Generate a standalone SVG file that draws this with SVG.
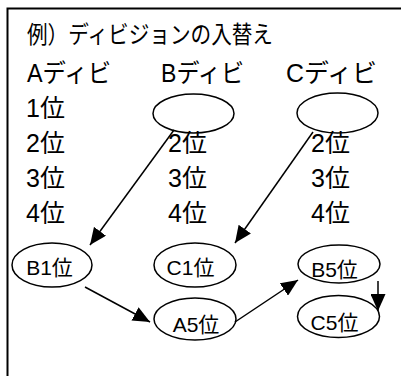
<svg xmlns="http://www.w3.org/2000/svg" width="401" height="376" viewBox="0 0 401 376">
<style>
text{font-family:"Liberation Sans","Noto Sans CJK JP",sans-serif;fill:#000}
.t{font-size:24px}
.r{font-size:25px}
.n{font-size:21px}
.e{fill:none;stroke:#000;stroke-width:1.5}
.c{fill:none;stroke:#000;stroke-width:1.5}
</style>
<defs>
<marker id="ah" markerUnits="userSpaceOnUse" markerWidth="17" markerHeight="15" refX="17" refY="7.5" orient="auto" viewBox="0 0 17 15">
<path d="M0,0 L17,7.5 L0,15 z" fill="#000"/>
</marker>
</defs>
<rect width="401" height="376" fill="#fff"/>
<path d="M7.5,376 V8.5 H401" fill="none" stroke="#000" stroke-width="2"/>
<g id="labels">
<text class="t" x="27" y="43" textLength="246" lengthAdjust="spacingAndGlyphs">例）ディビジョンの入替え</text>
<text class="r" x="27" y="82" textLength="84" lengthAdjust="spacingAndGlyphs">Aディビ</text>
<text class="r" x="161" y="82" textLength="83" lengthAdjust="spacingAndGlyphs">Bディビ</text>
<text class="r" x="286" y="82" textLength="91" lengthAdjust="spacingAndGlyphs">Cディビ</text>
<text class="r" x="26" y="117">1位</text>
<text class="r" x="26" y="152">2位</text>
<text class="r" x="26" y="187">3位</text>
<text class="r" x="26" y="222">4位</text>
<text class="r" x="168" y="152">2位</text>
<text class="r" x="168" y="187">3位</text>
<text class="r" x="168" y="222">4位</text>
<text class="r" x="311" y="152">2位</text>
<text class="r" x="311" y="187">3位</text>
<text class="r" x="311" y="222">4位</text>
</g>
<g id="nodeB0"><ellipse class="e" cx="193.5" cy="113.5" rx="40.5" ry="19.5"/></g>
<g id="nodeC0"><ellipse class="e" cx="337.5" cy="113" rx="40.5" ry="20"/></g>
<g id="nodeB1"><ellipse class="e" cx="52" cy="265" rx="40" ry="22"/><text class="n" x="49.5" y="275" text-anchor="middle">B1位</text></g>
<g id="nodeC1"><ellipse class="e" cx="195" cy="265" rx="41" ry="22"/><text class="n" x="190.5" y="275" text-anchor="middle">C1位</text></g>
<g id="nodeB5"><ellipse class="e" cx="339" cy="264" rx="41" ry="19"/><text class="n" x="334.5" y="277" text-anchor="middle">B5位</text></g>
<g id="nodeA5"><ellipse class="e" cx="195" cy="319" rx="41" ry="21"/><text class="n" x="196" y="332" text-anchor="middle">A5位</text></g>
<g id="nodeC5"><ellipse class="e" cx="338.5" cy="316.5" rx="41" ry="21"/><text class="n" x="334.5" y="330" text-anchor="middle">C5位</text></g>
<g id="connectors">
<line class="c" x1="174" y1="130" x2="90" y2="245" marker-end="url(#ah)"/>
<line class="c" x1="313" y1="132" x2="235" y2="243" marker-end="url(#ah)"/>
<line class="c" x1="85" y1="287" x2="150" y2="322" marker-end="url(#ah)"/>
<line class="c" x1="235" y1="322" x2="298" y2="280" marker-end="url(#ah)"/>
<line class="c" x1="378" y1="281" x2="378" y2="311" marker-end="url(#ah)"/>
</g>
</svg>
